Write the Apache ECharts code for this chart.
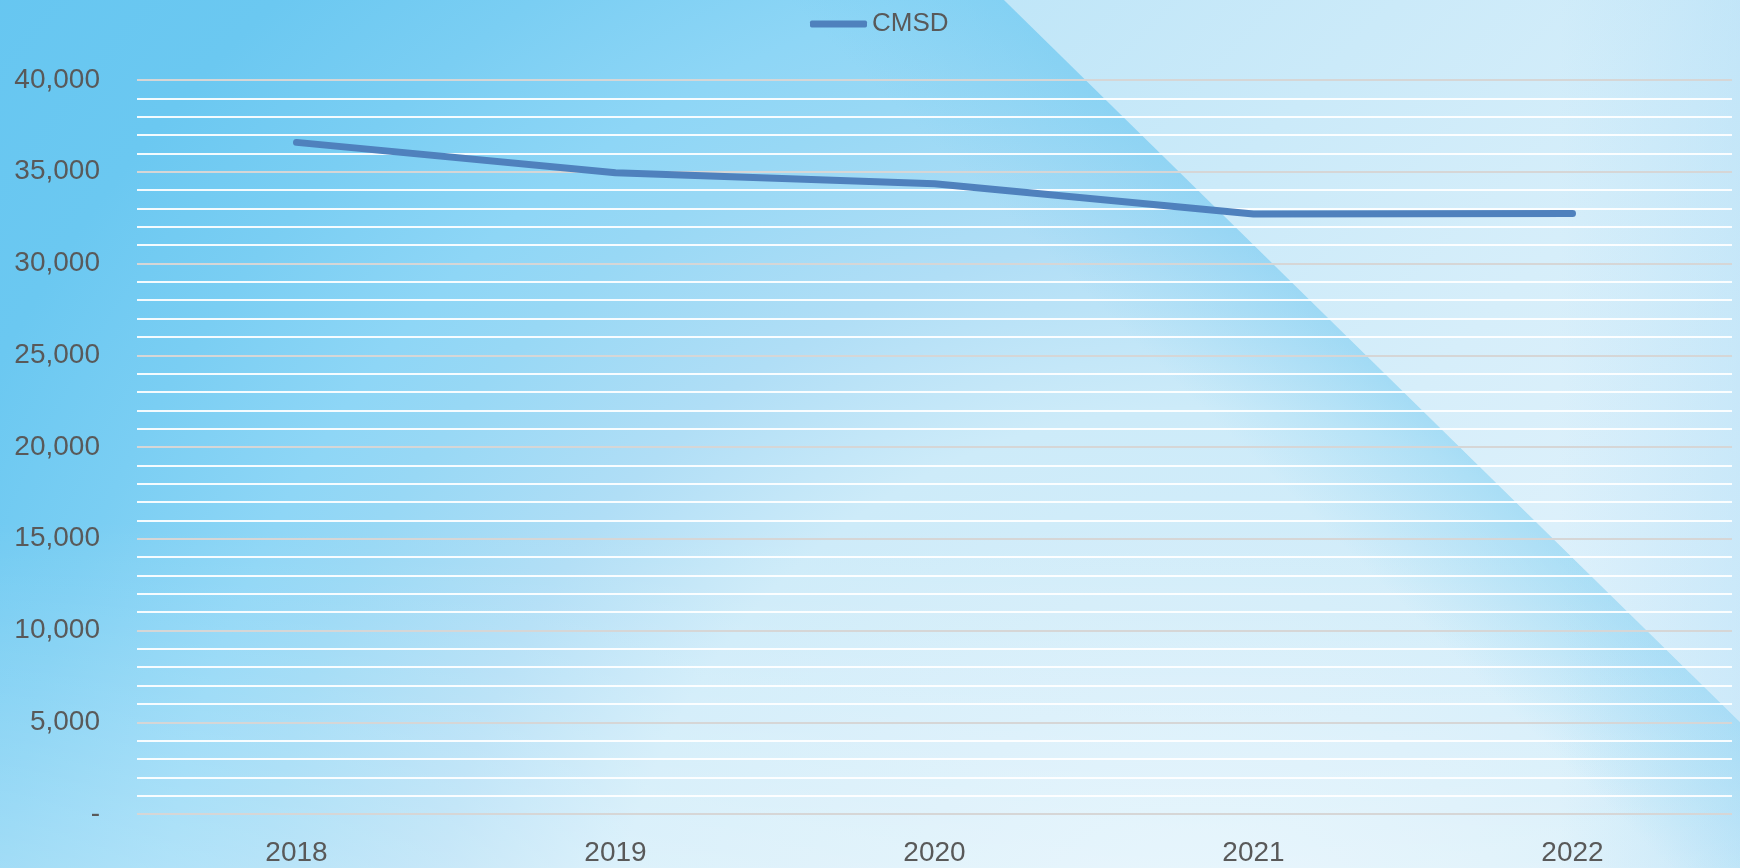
<!DOCTYPE html>
<html>
<head>
<meta charset="utf-8">
<script src="https://cdn.jsdelivr.net/npm/echarts@6/dist/echarts.min.js"></script>
<style>
html,body{margin:0;padding:0;}
#chart{width:1740px;height:868px;}
</style>
</head>
<body>
<div id="chart"></div>
<script>
const categories = ['2018', '2019', '2020', '2021', '2022'];
const seriesName = 'CMSD';
const cmsdValues = [36600, 34950, 34350, 32700, 32730];
const yTicks = [0, 5000, 10000, 15000, 20000, 25000, 30000, 35000, 40000];

const chart = echarts.init(document.getElementById('chart'), null, {renderer: 'canvas'});
const W = 1740, H = 868;
const LG = echarts.graphic.LinearGradient;
const RG = echarts.graphic.RadialGradient;

const option = {
  backgroundColor: 'transparent',
  textStyle: {fontFamily: 'Liberation Sans, Arial, sans-serif'},
  graphic: [
    {
      type: 'rect', z: -10, silent: true,
      shape: {x: 0, y: 0, width: W, height: H},
      style: {
        fill: new RG(1200, 1000, 1600, [
          {offset: 0, color: '#e0f3fc'},
          {offset: 0.2, color: '#d6eefa'},
          {offset: 0.37, color: '#cdebf9'},
          {offset: 0.48, color: '#b0def6'},
          {offset: 0.59, color: '#98d8f5'},
          {offset: 0.65, color: '#8ed6f6'},
          {offset: 0.75, color: '#7acef3'},
          {offset: 0.85, color: '#6bc8f1'},
          {offset: 1, color: '#66c6f1'}
        ], true)
      }
    },
    {
      type: 'rect', z: -9, silent: true,
      shape: {x: 0, y: 0, width: W, height: H},
      style: {
        fill: new LG(0, 0, 0, 1, [
          {offset: 0, color: 'rgba(255,255,255,0)'},
          {offset: 0.6, color: 'rgba(255,255,255,0)'},
          {offset: 1, color: 'rgba(255,255,255,0.3)'}
        ])
      }
    },
    {
      type: 'polygon', z: -8, silent: true,
      shape: {points: [[700, 0], [1004, 0], [1740, 722], [1740, 1000]]},
      style: {
        fill: new LG(897, 109, 1004, 0, [
          {offset: 0, color: 'rgba(110,200,240,0)'},
          {offset: 1, color: 'rgba(110,200,240,0.38)'}
        ], true)
      }
    },
    {
      type: 'polygon', z: -7, silent: true,
      shape: {points: [[1004, 0], [1740, 0], [1740, 722]]},
      style: {
        fill: new LG(1004, 0, 1740, 722, [
          {offset: 0, color: '#c0e6f8'},
          {offset: 0.55, color: '#d6eefa'},
          {offset: 1, color: '#e4f3fc'}
        ], true)
      }
    },
    {
      type: 'rect', z: -6, silent: true,
      shape: {x: 1560, y: 0, width: 180, height: 868},
      style: {
        fill: new LG(1560, 0, 1740, 0, [
          {offset: 0, color: 'rgba(160,215,245,0)'},
          {offset: 1, color: 'rgba(160,215,245,0.35)'}
        ], true)
      }
    }
  ],
  legend: {
    show: true,
    left: 805,
    top: 6,
    itemWidth: 57,
    itemHeight: 7,
    icon: 'roundRect',
    data: [seriesName],
    textStyle: {color: '#595959', fontSize: 26, fontFamily: 'Liberation Sans, Arial, sans-serif'}
  },
  grid: {left: 137, right: 8, top: 80, bottom: 54, containLabel: false},
  xAxis: {
    type: 'category',
    data: categories,
    boundaryGap: true,
    axisLine: {show: false},
    axisTick: {show: false},
    axisLabel: {color: '#595959', fontSize: 28, margin: 25, fontFamily: 'Liberation Sans, Arial, sans-serif'},
    splitLine: {show: false}
  },
  yAxis: {
    type: 'value',
    min: yTicks[0],
    max: yTicks[yTicks.length - 1],
    interval: yTicks[1] - yTicks[0],
    axisLine: {show: false},
    axisTick: {show: false},
    axisLabel: {
      color: '#595959', fontSize: 28, margin: 37,
      fontFamily: 'Liberation Sans, Arial, sans-serif',
      formatter: function (v) { return v === 0 ? '-' : v.toLocaleString('en-US'); }
    },
    splitLine: {show: true, lineStyle: {color: '#d6d6d6', width: 2}},
    minorTick: {show: false, splitNumber: 5},
    minorSplitLine: {show: true, lineStyle: {color: 'rgba(255,255,255,0.92)', width: 2}}
  },
  series: [{
    name: seriesName,
    type: 'line',
    data: cmsdValues,
    symbol: 'none',
    smooth: false,
    lineStyle: {color: '#4f81bd', width: 7, cap: 'round', join: 'round'},
    itemStyle: {color: '#4f81bd'},
    z: 5
  }],
  animation: false
};
chart.setOption(option);
</script>
</body>
</html>
